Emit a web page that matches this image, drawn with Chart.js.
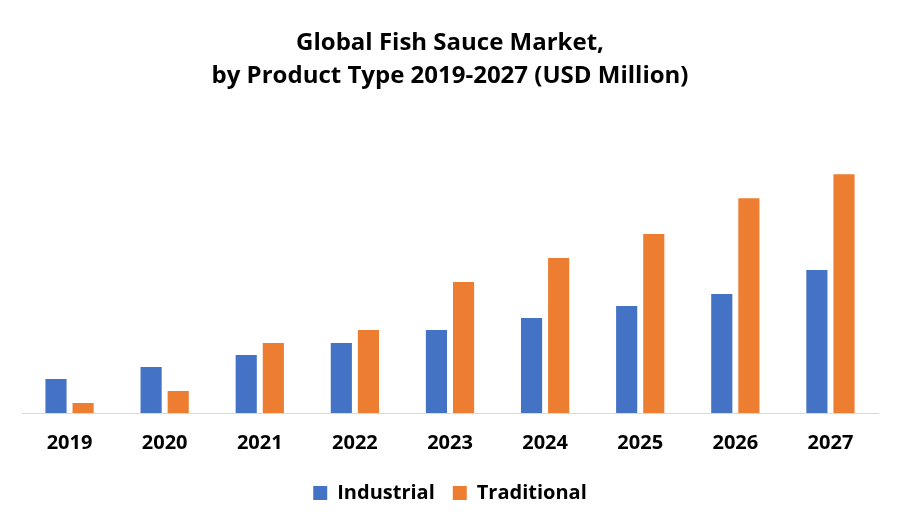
<!DOCTYPE html>
<html>
<head>
<meta charset="utf-8">
<script src="https://cdn.jsdelivr.net/npm/chart.js@4"></script>
<style>
  html, body { margin: 0; padding: 0; background: #fff; }
  #wrap { position: relative; width: 900px; height: 525px; }
</style>
</head>
<body>
<div id="wrap"><canvas id="ChartCanvas"></canvas></div>
<script>
const years = ['2019', '2020', '2021', '2022', '2023', '2024', '2025', '2026', '2027'];
const industrial = [34, 46, 58, 70, 83, 95, 107, 119, 143];
const traditional = [10, 22, 70, 83, 131, 155, 179, 215, 239];

const font = "'Open Sans', 'Liberation Sans', sans-serif";

new Chart(document.getElementById('ChartCanvas'), {
  type: 'bar',
  data: {
    labels: years,
    datasets: [{
      label: 'Industrial',
      data: industrial,
      backgroundColor: '#4472c4',
      categoryPercentage: 0.57,
      barPercentage: 0.78
    }, {
      label: 'Traditional',
      data: traditional,
      backgroundColor: '#ed7d31',
      categoryPercentage: 0.57,
      barPercentage: 0.78
    }]
  },
  options: {
    animation: false,
    responsive: true,
    maintainAspectRatio: false,
    layout: { padding: { left: 22, right: 22, top: 10, bottom: 12 } },
    scales: {
      x: {
        grid: { display: false },
        border: { color: '#d9d9d9', width: 1 },
        ticks: { color: '#000', font: { family: font, size: 20, weight: 'bold' }, padding: 10 }
      },
      y: {
        display: false,
        min: 0,
        max: 294
      }
    },
    plugins: {
      title: {
        display: true,
        text: ['Global Fish Sauce Market,', 'by Product Type 2019-2027 (USD Million)'],
        color: '#000',
        font: { family: font, size: 24, weight: 'bold', lineHeight: 1.4 },
        padding: { top: 16, bottom: 26 }
      },
      legend: {
        position: 'bottom',
        labels: {
          color: '#000',
          font: { family: font, size: 20, weight: 'bold' },
          boxWidth: 14,
          boxHeight: 14,
          padding: 18
        }
      },
      tooltip: { enabled: false }
    }
  }
});
</script>
</body>
</html>
